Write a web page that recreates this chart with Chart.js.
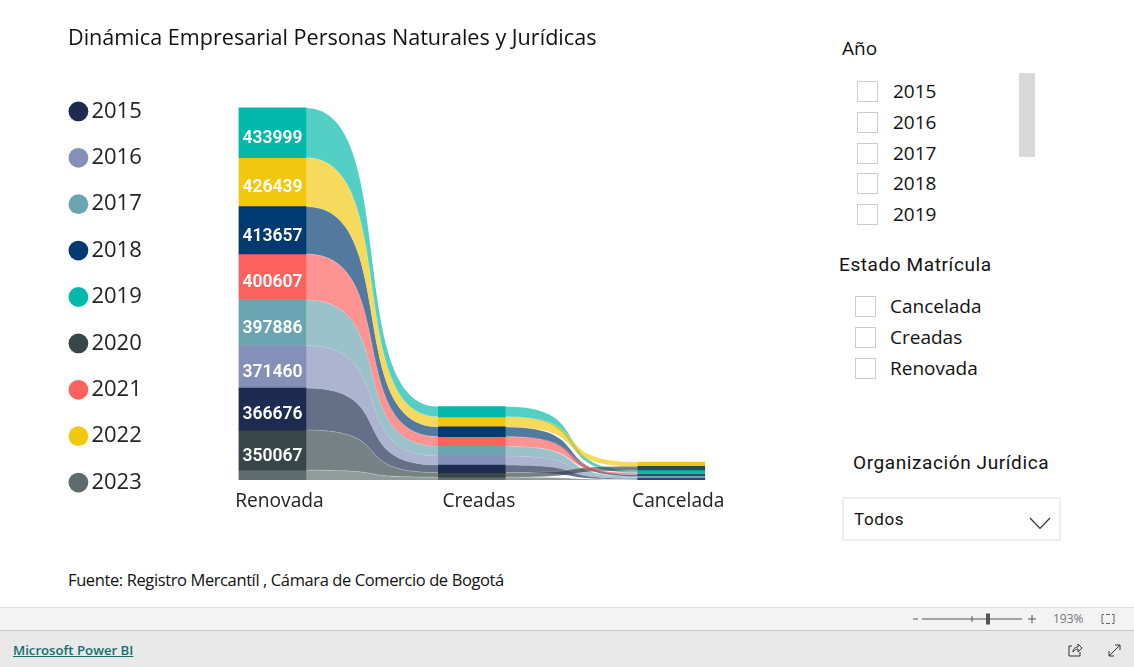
<!DOCTYPE html>
<html lang="es">
<head>
<meta charset="utf-8">
<title>Dinámica Empresarial</title>
<script src="https://cdn.jsdelivr.net/npm/chart.js@4"></script>
<style>
  html, body { margin: 0; padding: 0; background: #fff; overflow: hidden; }
  body { width: 1134px; height: 667px; position: relative; font-family: 'Open Sans', sans-serif; color: #111; }
  #chartWrap { position: absolute; left: 0; top: 0; width: 800px; height: 515px; }
  .abs { position: absolute; white-space: nowrap; line-height: 1; }
  .din { font-family: Roboto, sans-serif; letter-spacing: .6px; }
  .box { position: absolute; width: 19px; height: 19px; border: 1.5px solid #ccc; background: #fff; }
  .row { font-size: 19px; color: #111; }
  #scrollThumb { position: absolute; left: 1019px; top: 73px; width: 16px; height: 84px; background: #d9d9d9; }
  #dropdown { position: absolute; left: 842px; top: 497px; width: 215px; height: 40px; border: 2.5px solid #eee; }
  #statusBar { position: absolute; left: 0; top: 607px; width: 1134px; height: 23px; background: #f3f3f3; border-top: 1px solid #dcdcdc; box-sizing: border-box; }
  #footBar { position: absolute; left: 0; top: 630px; width: 1134px; height: 37px; background: #e9e9e9; border-top: 1px solid #c8c8c8; box-sizing: border-box; }
  #pbiLink { left: 13px; top: 644px; font-size: 13.2px; font-weight: 600; color: #11706f; text-decoration: underline; }
  svg.abs { overflow: visible; }
</style>
</head>
<body>
<div id="chartWrap"><canvas id="ribbonChart" width="800" height="515"></canvas></div>

<div class="abs" style="left:68px;top:572px;font-size:16.5px;letter-spacing:-.39px">Fuente: Registro Mercantíl , Cámara de Comercio de Bogotá</div>

<div class="abs" style="left:842px;top:39px;font-size:19px">Año</div>
<div id="yearSlicer"></div>
<div id="scrollThumb"></div>

<div class="abs din" style="left:839px;top:255px;font-size:19px">Estado Matrícula</div>
<div id="stateSlicer"></div>

<div class="abs din" style="left:853px;top:453px;font-size:19px">Organización Jurídica</div>
<div id="dropdown"></div>
<div class="abs din" style="left:854px;top:511px;font-size:17px">Todos</div>
<svg class="abs" style="left:1029px;top:517px" width="22" height="13"><path d="M1 1 L11 11.5 L21 1" fill="none" stroke="#333" stroke-width="1.2"/></svg>

<div id="statusBar"></div>
<div id="footBar"></div>
<svg class="abs" style="left:912px;top:612px" width="125" height="14">
  <path d="M1 7 H6 M10 7 H110 M60 4 V10 M116 7 H124 M120 3 V11" stroke="#555" stroke-width="1" fill="none"/>
  <rect x="74" y="1.5" width="4" height="11" fill="#555"/>
</svg>
<div class="abs" style="left:1053px;top:613px;font-size:12px;color:#777">193%</div>
<svg class="abs" style="left:1101px;top:613px" width="14" height="12"><path d="M3 1.5 H1 V10.5 H3 M11 1.5 H13 V10.5 H11 M5 1.5 H9 M5 10.5 H9" fill="none" stroke="#666"/></svg>
<a id="pbiLink" class="abs">Microsoft Power BI</a>
<svg class="abs" style="left:1068px;top:643px" width="14" height="14"><path d="M4 3 H1 V13 H12 V9 M5 9 C5 5 8 4 10 4 V1 L14 5 L10 9 V6 C8 6 6 7 5 9" fill="none" stroke="#333"/></svg>
<svg class="abs" style="left:1108px;top:644px" width="13" height="13"><path d="M1 12 L12 1 M7 1 H12 V6 M1 7 V12 H6" fill="none" stroke="#333"/></svg>

<script>
/* Ribbon chart: stacked columns ranked per category, joined by curved bands */

const categories = ['Renovada', 'Creadas', 'Cancelada'];
const years      = ['2015', '2016', '2017', '2018', '2019', '2020', '2021', '2022', '2023'];
const colors     = ['#1c2b4f', '#8590b8', '#6ba5b1', '#013a70', '#01b8aa', '#374649', '#fd625e', '#f2c80f', '#5f6b6d'];

/* values by year, same order as years */
const renovadaValues  = [366676, 371460, 397886, 413657, 433999, 350067, 400607, 426439, 85000];
const creadasValues   = [66000, 80000, 84000, 85000, 90000, 40000, 84000, 88000, 24000];
const canceladaValues = [8000, 10000, 11000, 14000, 20000, 37000, 15000, 38000, 4000];

const stateLabels = ['Cancelada', 'Creadas', 'Renovada'];

const Y_MAX    = 3489900;
const BAR_W    = 67;
const CURVE_K  = 0.72;
const LABEL_MIN_H = 30;

/* floating [low, high] per year, biggest value on top */
function rankedStack(values) {
  const order = values.map((v, i) => i).sort((a, b) => values[a] - values[b]);
  const out = [];
  let sum = 0;
  order.forEach(i => {
    out[i] = [sum, sum + values[i]];
    sum += values[i];
  });
  return out;
}

const stacks = [renovadaValues, creadasValues, canceladaValues].map(rankedStack);
const rawValues = [renovadaValues, creadasValues, canceladaValues];

const datasets = years.map((y, i) => ({
  label: y,
  data: stacks.map(s => s[i]),
  backgroundColor: colors[i],
  borderWidth: 0,
  barThickness: BAR_W,
  grouped: false,
}));

const ribbonPlugin = {
  id: 'ribbons',
  afterLayout(chart) {
    /* legend sits lower and further left than the default box */
    chart.legend.left = 52;
    chart.legend.top = 76;
    chart.legend.bottom = chart.height + 20; // else the last item wraps to a new column
  },
  beforeDatasetsDraw(chart) {
    const { ctx } = chart;
    chart.data.datasets.forEach((ds, i) => {
      const els = chart.getDatasetMeta(i).data;
      for (let c = 0; c < els.length - 1; c++) {
        const a = els[c], b = els[c + 1];
        const x1 = a.x + BAR_W / 2, x2 = b.x - BAR_W / 2;
        const k = (x2 - x1) * CURVE_K;
        ctx.save();
        ctx.beginPath();
        ctx.moveTo(x1, a.y);
        ctx.bezierCurveTo(x1 + k, a.y, x2 - k, b.y, x2, b.y);
        ctx.lineTo(x2, b.base);
        ctx.bezierCurveTo(x2 - k, b.base, x1 + k, a.base, x1, a.base);
        ctx.closePath();
        ctx.globalAlpha = 0.68;
        ctx.fillStyle = colors[i];
        ctx.fill();
        ctx.restore();
        ctx.save();
        ctx.beginPath();
        ctx.moveTo(x1, a.y);
        ctx.bezierCurveTo(x1 + k, a.y, x2 - k, b.y, x2, b.y);
        ctx.strokeStyle = 'rgba(255,255,255,0.3)';
        ctx.lineWidth = 0.8;
        ctx.stroke();
        ctx.restore();
      }
    });
  },
  afterDatasetsDraw(chart) {
    const { ctx } = chart;
    ctx.save();
    ctx.font = '600 17.5px Roboto';
    ctx.fillStyle = '#fff';
    ctx.textAlign = 'center';
    ctx.textBaseline = 'middle';
    chart.data.datasets.forEach((ds, i) => {
      chart.getDatasetMeta(i).data.forEach((el, c) => {
        if (Math.abs(el.base - el.y) < LABEL_MIN_H) return;
        ctx.fillText(String(rawValues[c][i]), el.x, (el.y + el.base) / 2 + 6);
      });
    });
    ctx.restore();
  },
};

new Chart(document.getElementById('ribbonChart').getContext('2d'), {
  type: 'bar',
  data: { labels: categories, datasets },
  plugins: [ribbonPlugin],
  options: {
    responsive: false,
    animation: false,
    layout: { padding: { left: 68, right: 29, top: 26, bottom: 0 } },
    plugins: {
      tooltip: { enabled: false },
      title: {
        display: true,
        text: 'Dinámica Empresarial Personas Naturales y Jurídicas',
        align: 'start',
        color: '#111',
        font: { family: 'Open Sans', size: 21.6, weight: 'normal', lineHeight: 1.2 },
        padding: { top: 0, bottom: 28 },
      },
      legend: {
        position: 'left',
        align: 'start',
        onClick: null,
        labels: {
          usePointStyle: true,
          pointStyle: 'circle',
          boxHeight: 14,
          boxWidth: 4,
          padding: 24.4,
          color: '#222',
          font: { family: 'Open Sans', size: 22, lineHeight: 1.2 },
        },
      },
    },
    scales: {
      x: {
        grid: { display: false },
        border: { display: false },
        ticks: { color: '#222', font: { family: 'Open Sans', size: 19.2 }, padding: 2, maxRotation: 0, labelOffset: 7 },
      },
      y: {
        min: 0,
        max: Y_MAX,
        grid: { display: false },
        border: { display: false },
        ticks: { display: false },
        afterFit(axis) { axis.width = 5; },
      },
    },
  },
});

/* slicer rows */
function addRows(holder, labels, boxX, textX, centers) {
  labels.forEach((lbl, i) => {
    const box = document.createElement('div');
    box.className = 'box';
    box.style.left = boxX + 'px';
    box.style.top = (centers[i] - 10) + 'px';
    holder.appendChild(box);
    const txt = document.createElement('div');
    txt.className = 'abs row';
    txt.style.left = textX + 'px';
    txt.style.top = (centers[i] - 9) + 'px';
    txt.textContent = lbl;
    holder.appendChild(txt);
  });
}
addRows(document.getElementById('yearSlicer'), years.slice(0, 5), 857, 893, [91, 122, 153, 183, 214]);
addRows(document.getElementById('stateSlicer'), stateLabels, 855, 890, [306, 337, 368]);
</script>
</body>
</html>
